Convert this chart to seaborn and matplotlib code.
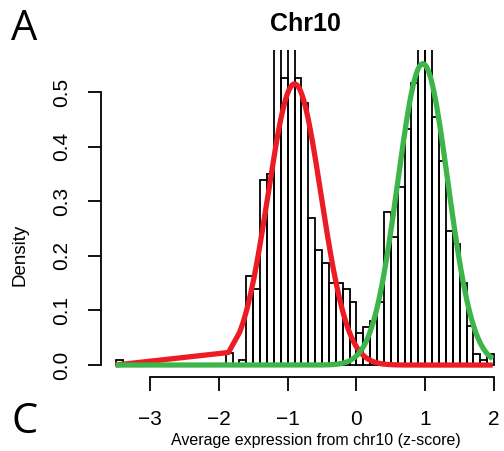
import numpy as np
import pandas as pd
import matplotlib
matplotlib.use("Agg")
import matplotlib.pyplot as plt
import seaborn as sns

# ---- data ----
bin_left = [-3.5, -3.4, -3.3, -3.2, -3.1, -3.0, -2.9, -2.8, -2.7, -2.6, -2.5,
            -2.4, -2.3, -2.2, -2.1, -2.0, -1.9, -1.8, -1.7, -1.6, -1.5, -1.4,
            -1.3, -1.2, -1.1, -1.0, -0.9, -0.8, -0.7, -0.6, -0.5, -0.4, -0.3,
            -0.2, -0.1, 0.0, 0.1, 0.2, 0.3, 0.4, 0.5, 0.6, 0.7, 0.8, 0.9, 1.0,
            1.1, 1.2, 1.3, 1.4, 1.5, 1.6, 1.7, 1.8, 1.9]
density = [0.010, 0, 0, 0, 0, 0, 0, 0, 0, 0, 0,
           0, 0, 0, 0, 0, 0.022, 0, 0.010, 0.163, 0.140, 0.339,
           0.350, 0.64, 0.525, 0.63, 0.525, 0.48, 0.269, 0.210, 0.186, 0.151, 0.151,
           0.140, 0.116, 0.058, 0.070, 0.081, 0.116, 0.280, 0.234, 0.327, 0.432, 0.516, 0.63, 0.63,
           0.455, 0.374, 0.245, 0.222, 0.151, 0.071, 0.021, 0.010, 0.021]
bin_width = 0.1

# fitted mixture components (peak height, mean, sd)
red_fit = dict(height=0.515, mean=-0.90, sd=0.385)
green_fit = dict(height=0.552, mean=0.965, sd=0.365)
# x positions where the fitted curves were evaluated (sorted observations)
curve_x = np.concatenate([[-3.5, -1.86], np.linspace(-1.7, 1.98, 160)])

x_ticks = [-3, -2, -1, 0, 1, 2]
y_ticks = [0.0, 0.1, 0.2, 0.3, 0.4, 0.5]

def comp(x, p):
    return p["height"] * np.exp(-(x - p["mean"]) ** 2 / (2 * p["sd"] ** 2))

sns.set_style("ticks")
plt.rcParams["font.family"] = ["Liberation Sans", "DejaVu Sans"]
plt.rcParams["text.color"] = "black"
plt.rcParams["axes.labelcolor"] = "black"

W, H = 504, 451
fig = plt.figure(figsize=(W / 100, H / 100), dpi=100)

xlim = (-3.72, 2.22)
ylim = (-0.0222, 0.577)
px_per_x = 68.8
px_per_y = 546.0
left_px, top_px = 100.5, 50.0
width_px = (xlim[1] - xlim[0]) * px_per_x
height_px = (ylim[1] - ylim[0]) * px_per_y
ax = fig.add_axes([left_px / W, 1 - (top_px + height_px) / H, width_px / W, height_px / H])

edges = list(bin_left) + [round(bin_left[-1] + bin_width, 1)]
centers = [b + bin_width / 2 for b in bin_left]
hist_df = pd.DataFrame({"x": centers, "w": density})
sns.histplot(data=hist_df, x="x", weights="w", bins=edges, stat="count",
             fill=False, color="black", linewidth=1.3, ax=ax)

curve_df = pd.DataFrame({"x": curve_x,
                         "red": comp(curve_x, red_fit),
                         "green": comp(curve_x, green_fit)})
sns.lineplot(data=curve_df, x="x", y="red", color="#EC1C24", linewidth=3.8,
             estimator=None, sort=False, ax=ax, solid_capstyle="butt")
sns.lineplot(data=curve_df, x="x", y="green", color="#3DB54A", linewidth=3.8,
             estimator=None, sort=False, ax=ax, solid_capstyle="butt")

ax.set_xlim(*xlim)
ax.set_ylim(*ylim)
for s in ["top", "right"]:
    ax.spines[s].set_visible(False)
ax.spines["left"].set_bounds(0, 0.5)
ax.spines["bottom"].set_bounds(-3, 2)
for s in ["left", "bottom"]:
    ax.spines[s].set_linewidth(1.3)
    ax.spines[s].set_color("black")

ax.set_xticks(x_ticks)
ax.set_yticks(y_ticks)
ax.set_yticklabels([f"{v:.1f}" for v in y_ticks])
ax.tick_params(axis="x", length=10, width=1.3, pad=14, labelsize=15,
               colors="black", labelcolor="black")
ax.tick_params(axis="y", length=9.5, width=1.3, pad=12, labelsize=15,
               colors="black", labelcolor="black")
for lab in ax.get_yticklabels():
    lab.set_rotation(90)
    lab.set_va("center")

ax.set_xlabel("Average expression from chr10 (z-score)", fontsize=11.5, color="black")
ax.set_ylabel("Density", fontsize=13.5, color="black")
ax.xaxis.set_label_coords((316 - left_px) / width_px, -(441 - top_px - height_px) / height_px)
ax.xaxis.label.set_va("center")
ax.yaxis.set_label_coords((20 - left_px) / width_px, (top_px + height_px - 255) / height_px)
ax.yaxis.label.set_va("center")
ax.yaxis.label.set_rotation_mode("anchor")

fig.text(305 / W, 1 - 24 / H, "Chr10", ha="center", va="center",
         fontsize=18, fontweight="bold", color="black")
fig.text(24 / W, 1 - 29 / H, "A", ha="center", va="center", fontsize=30,
         family=["Open Sans", "DejaVu Sans"], color="black")
fig.text(25 / W, 1 - 422 / H, "C", ha="center", va="center", fontsize=30,
         family=["Open Sans", "DejaVu Sans"], color="black")

fig.savefig("out.png", dpi=100, facecolor="white")
